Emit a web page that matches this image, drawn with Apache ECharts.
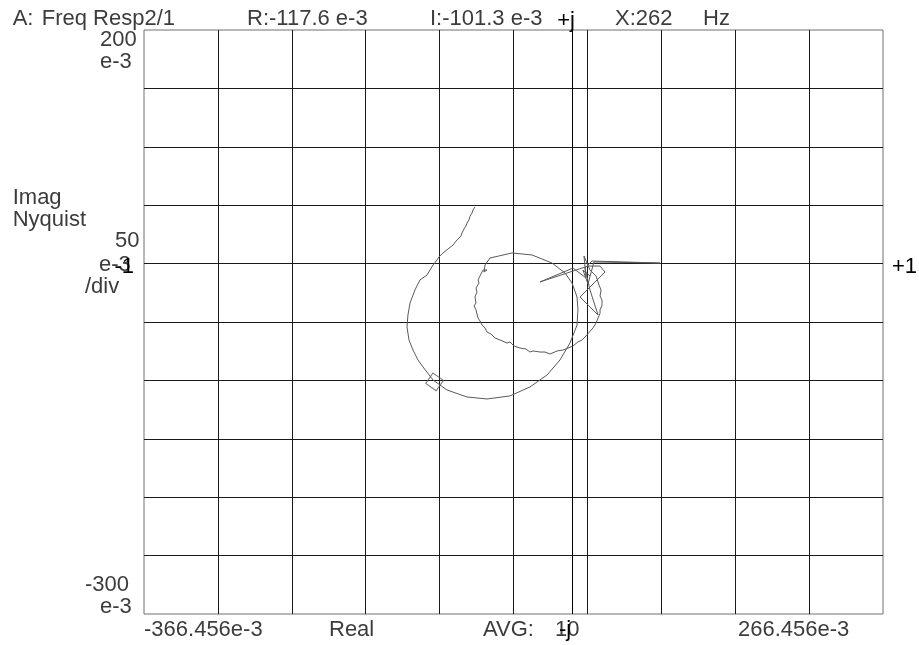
<!DOCTYPE html>
<html>
<head>
<meta charset="utf-8">
<script src="https://cdn.jsdelivr.net/npm/echarts@6/dist/echarts.min.js"></script>
<style>
html,body{margin:0;padding:0;background:#fff;}
#chart{width:919px;height:645px;}
</style>
</head>
<body>
<div id="chart"></div>
<script>
// Nyquist trace (units: e-3)
const curveReal = [-83.0,-84.7,-85.5,-87.3,-88.1,-89.8,-90.7,-92.4,-94.1,-95.0,-97.5,-99.2,-101.8,-103.5,-106.1,-107.8,-110.4,-112.1,-113.8,-115.5,
  -118.9,-124.1,-130.1,-134.4,-138.6,-140.4,-141.2,-139.5,-136.1,-131.8,-127.5,-118.9,-107.0,-89.8,-72.7,-53.0,-35.9,-21.3,-10.2,-1.6,4.4,5.2,4.4,0.1,-5.9,-17.0,-34.2,-51.3,-70.1,-74.4,-75.3,-72.7,-76.1,
  -78.7,-80.4,-79.5,-82.1,-81.3,-83.0,-82.1,-83.8,-82.1,-80.4,-78.7,-77.0,-74.4,-72.7,-69.3,-65.8,-61.6,-55.6,-53.0,-49.6,-44.5,-39.3,-35.9,-33.3,-27.3,-23.0,-18.7,-12.7,-7.6,-3.3,1.0,5.2,8.7,12.1,15.5,18.1,20.7,22.4,24.1,24.1,25.8,25.8,24.1,25.0,23.2,22.4,
  20.7,15.5,10.4,12.1,1.0,-27.3,-4.2,13.8,24.1,28.4,7.0,22.4,15.5,11.2,17.2,75.5,18.9,13.8,9.5,15.5];
const curveImag = [48.5,45.9,43.3,40.4,37.4,34.7,32.2,29.6,26.2,23.6,21.1,19.3,15.9,15.1,12.5,11.6,9.1,8.2,5.7,3.1,
  -1.2,-9.8,-14.0,-22.6,-33.7,-44.0,-54.3,-65.4,-74.0,-82.5,-88.5,-99.7,-108.2,-114.2,-115.9,-113.3,-105.6,-95.4,-82.5,-67.9,-52.6,-39.7,-28.6,-16.6,-8.0,0.5,7.4,9.1,4.8,-1.2,-7.2,-5.5,-5.5,
  -10.6,-14.0,-16.6,-20.9,-24.3,-28.6,-33.7,-36.3,-39.7,-46.6,-49.1,-52.6,-55.1,-58.6,-60.3,-63.7,-65.4,-68.0,-67.1,-70.5,-72.3,-73.1,-75.7,-74.8,-75.7,-75.7,-77.4,-74.8,-74.0,-72.3,-70.5,-67.1,-65.4,-62.0,-58.0,-55.1,-50.9,-46.6,-42.6,-39.7,-35.7,-31.2,-27.7,-22.6,-18.3,-15.7,
  -10.6,-5.5,6.5,-12.3,-3.8,-15.7,-8.1,-2.1,-2.1,-7.2,-28.6,-44.0,-22.6,-3.8,2.2,0.5,1.4,-17.5,-5.5,-10.6];
const cursorReal = [-117.6];
const cursorImag = [-101.3];
const xMin = -366.456, xMax = 266.456;
const yMin = -300, yMax = 200, yStep = 50;

const curveData = curveReal.map((r, i) => [r, curveImag[i]]);
const cursorData = cursorReal.map((r, i) => [r, cursorImag[i]]);

const FONT = '22px "Liberation Sans", Arial, sans-serif';
const GRAY = '#3c3c3c';
function txt(text, x, y, opts) {
  opts = opts || {};
  return {
    type: 'text', silent: true, z: 100,
    style: {
      text: text, x: x, y: y, font: opts.font || FONT,
      fill: opts.fill || GRAY,
      align: opts.align || 'left',
      verticalAlign: 'middle'
    }
  };
}

const chart = echarts.init(document.getElementById('chart'), null, {renderer: 'canvas'});
chart.setOption({
  animation: false,
  backgroundColor: '#fff',
  grid: {left: 144, top: 30, right: 36, bottom: 31, show: true, borderColor: '#707070', borderWidth: 1, containLabel: false},
  xAxis: [
    {type: 'value', min: xMin, max: xMax, show: false, splitLine: {show: false}},
    {type: 'value', min: 0, max: 10, interval: 1, position: 'bottom',
     axisLine: {show: false}, axisTick: {show: false}, axisLabel: {show: false},
     splitLine: {show: true, showMinLine: false, showMaxLine: false, lineStyle: {color: '#1a1a1a', width: 1}}}
  ],
  yAxis: {type: 'value', min: yMin, max: yMax, interval: yStep,
    axisLine: {show: false}, axisTick: {show: false}, axisLabel: {show: false},
    splitLine: {show: true, showMinLine: false, showMaxLine: false, lineStyle: {color: '#1a1a1a', width: 1}}},
  series: [
    {type: 'line', xAxisIndex: 1, data: [], silent: true},
    {type: 'line', xAxisIndex: 0, data: curveData, showSymbol: false, symbol: 'none',
     lineStyle: {color: '#5a5a5a', width: 1}, silent: true, z: 5,
     markLine: {silent: true, symbol: ['none', 'none'], label: {show: false},
       lineStyle: {color: '#000', width: 1, type: 'solid'},
       data: [{xAxis: 0}]}},
    {type: 'scatter', xAxisIndex: 0, data: cursorData, symbol: 'diamond', symbolSize: 18, symbolRotate: 10,
     itemStyle: {color: 'rgba(0,0,0,0)', borderColor: '#555', borderWidth: 1}, silent: true, z: 6}
  ],
  graphic: [
    txt('A:', 12.7, 19),
    txt('Freq Resp2/1', 41.7, 19),
    txt('R:-117.6 e-3', 247, 19),
    txt('I:-101.3 e-3', 430, 19),
    txt('+j', 566, 21, {fill: '#000', align: 'center'}),
    txt('X:262', 615, 19),
    txt('Hz', 703, 19),
    txt('200', 100, 40),
    txt('e-3', 100, 62),
    txt('Imag', 12.7, 198),
    txt('Nyquist', 12.7, 220),
    txt('50', 115, 241),
    txt('e-3', 99, 265),
    txt('/div', 85, 287),
    txt('-1', 134, 267, {fill: '#000', align: 'right'}),
    txt('+1', 892, 267, {fill: '#000'}),
    txt('-300', 85, 585),
    txt('e-3', 100, 607),
    txt('-366.456e-3', 144, 630),
    txt('Real', 329, 630),
    txt('AVG:', 483, 630),
    txt('10', 555, 630),
    txt('-j', 565, 630, {fill: '#000', align: 'center'}),
    txt('266.456e-3', 738, 630)
  ]
});
</script>
</body>
</html>
